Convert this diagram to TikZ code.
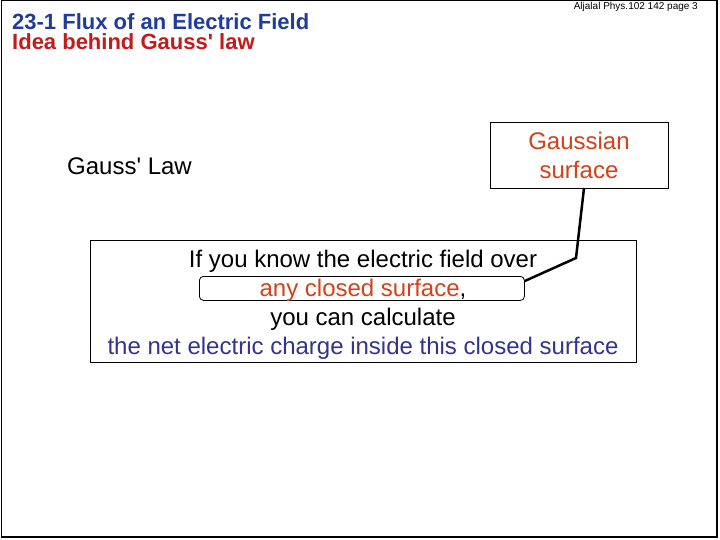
\documentclass[tikz,border=0pt]{standalone}
\usepackage{fontspec}
\setmainfont{Liberation Sans}
\definecolor{tblue}{HTML}{1F3C9C}
\definecolor{tred}{HTML}{C41A1A}
\definecolor{orng}{HTML}{D4401A}
\definecolor{nblue}{HTML}{33338F}
\begin{document}
\begin{tikzpicture}[x=1pt,y=-1pt,
  txt/.style={inner sep=0pt,anchor=base west},
  ctxt/.style={inner sep=0pt,anchor=base},
  big/.style={font=\fontsize{24}{28}\selectfont},
  bx/.style={draw,line width=0.8pt}]
\useasboundingbox (0,0) rectangle (720,540);
\draw[line width=1pt] (1,1) rectangle (717,537);
\draw[line width=2.5pt] (717,1) -- (717,537) -- (1,537);
\node[txt,font=\fontsize{22}{24}\selectfont\bfseries,text=tblue] (t1) at (12,30) {23-1 Flux of an Electric Field};
\node[txt,font=\fontsize{22}{24}\selectfont\bfseries,text=tred] (t2) at (12,50) {Idea behind Gauss\textquotesingle{} law};
\node[anchor=base east,inner sep=0pt,font=\fontsize{10}{11}\selectfont] (pg) at (698,10) {Aljalal Phys.102 142 page 3};
\node[txt,big] (gl) at (67,175) {Gauss\textquotesingle{} Law};
\node[bx,minimum width=178,minimum height=66,anchor=north west,inner sep=0pt] (gs) at (490,122) {};
\node[ctxt,big,text=orng] (g1) at (579,150) {Gaussian};
\node[ctxt,big,text=orng] (g2) at (579,179) {surface};
\node[bx,minimum width=546,minimum height=122,anchor=north west,inner sep=0pt] (mb) at (90,240) {};
\node[bx,rounded corners=4pt,minimum width=325,minimum height=24,anchor=north west,inner sep=0pt] (rb) at (199,276) {};
\node[ctxt,big] (l1) at (363,267) {If you know the electric field over};
\node[ctxt,big] (l2) at (363,296) {\textcolor{orng}{any closed surface},};
\node[ctxt,big] (l3) at (363,325) {you can calculate};
\node[ctxt,big,text=nblue] (l4) at (363,354) {the net electric charge inside this closed surface};
\coordinate (k) at (576,258);
\draw[line width=2.5pt] (584,188) -- (k) -- (rb.east |- 0,281);
\end{tikzpicture}
\end{document}
